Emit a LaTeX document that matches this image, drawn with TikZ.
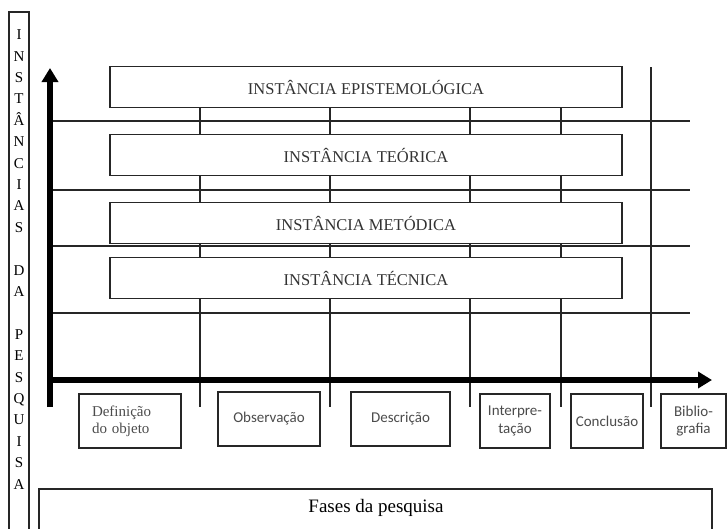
\documentclass[tikz,border=0pt]{standalone}
\usepackage{fontspec}
\setmainfont{Liberation Serif}
\newfontfamily\calibri{Carlito}
\usetikzlibrary{arrows.meta, positioning}

\begin{document}
\begin{tikzpicture}[
  x=1pt, y=-1pt,
  thinline/.style={line width=1.2pt, black!85},
  axis/.style={line width=5.5pt, -{Triangle[length=14pt, width=16pt]}},
  instbox/.style={rectangle, draw=black!85, line width=1.3pt, fill=white, minimum width=512pt, minimum height=41pt, inner sep=0pt, font=\fontsize{16.5}{18}\selectfont, text=black!80},
  fasebox/.style={rectangle, draw=black!85, line width=1.3pt, fill=white, minimum height=54pt, inner sep=0pt, align=center, font=\calibri\fontsize{15}{17.5}\selectfont, text=black!70},
  vlabel/.style={align=center, inner sep=0pt, font=\fontsize{15}{21.4}\selectfont},
]
\useasboundingbox (0,0) rectangle (727,528);

% grid lines behind the boxes
\draw[thinline] (50,121) -- (690,121);
\draw[thinline] (50,190) -- (690,190);
\draw[thinline] (50,246) -- (690,246);
\draw[thinline] (50,313) -- (690,313);
\draw[thinline] (200,108) -- (200,407);
\draw[thinline] (330,108) -- (330,407);
\draw[thinline] (470,108) -- (470,407);
\draw[thinline] (561,108) -- (561,407);
\draw[thinline] (651,67)  -- (651,407);

% instancias
\node[instbox] (epist) at (366,87)  {INSTÂNCIA EPISTEMOLÓGICA};
\node[instbox] (teor)  at (366,155) {INSTÂNCIA TEÓRICA};
\node[instbox] (metod) at (366,223) {INSTÂNCIA METÓDICA};
\node[instbox] (tecn)  at (366,278) {INSTÂNCIA TÉCNICA};

% eixos
\coordinate (vbase) at (50,407);
\coordinate (vtip)  at (50,68);
\coordinate (hbase) at (47,380);
\coordinate (htip)  at (712,380);
\draw[axis] (vbase) -- (vtip);
\draw[axis] (hbase) -- (htip);

% fases
\node[fasebox, minimum width=102pt, text width=76pt, align=left, font=\fontsize{15}{17}\selectfont] (defin) at (130,421) {Definição\\do objeto};
\node[fasebox, minimum width=102pt] (obs)    at (269,419)   {Observação};
\node[fasebox, minimum width=99pt]  (descr)  at (400.5,419) {Descrição};
\node[fasebox, minimum width=70pt]  (interp) at (515,421)   {Interpre-\\tação};
\node[fasebox, minimum width=72pt]  (concl)  at (607,421)   {Conclusão};
\node[fasebox, minimum width=65pt]  (biblio) at (693.5,421) {Biblio-\\grafia};

% moldura lateral e inferior
\draw[line width=1.3pt, black!85] (9,545) |- (29,12) -- (29,545);
\node[vlabel] (instancias) at (19,259.5) {I\\N\\S\\T\\Â\\N\\C\\I\\A\\S\\~\\D\\A\\~\\P\\E\\S\\Q\\U\\I\\S\\A};
\draw[line width=1.3pt, black!85] (39,545) |- (712,489) -- (712,545);
\node[font=\fontsize{19}{22}\selectfont] (fases) at (376,508) {Fases da pesquisa};
\end{tikzpicture}
\end{document}
